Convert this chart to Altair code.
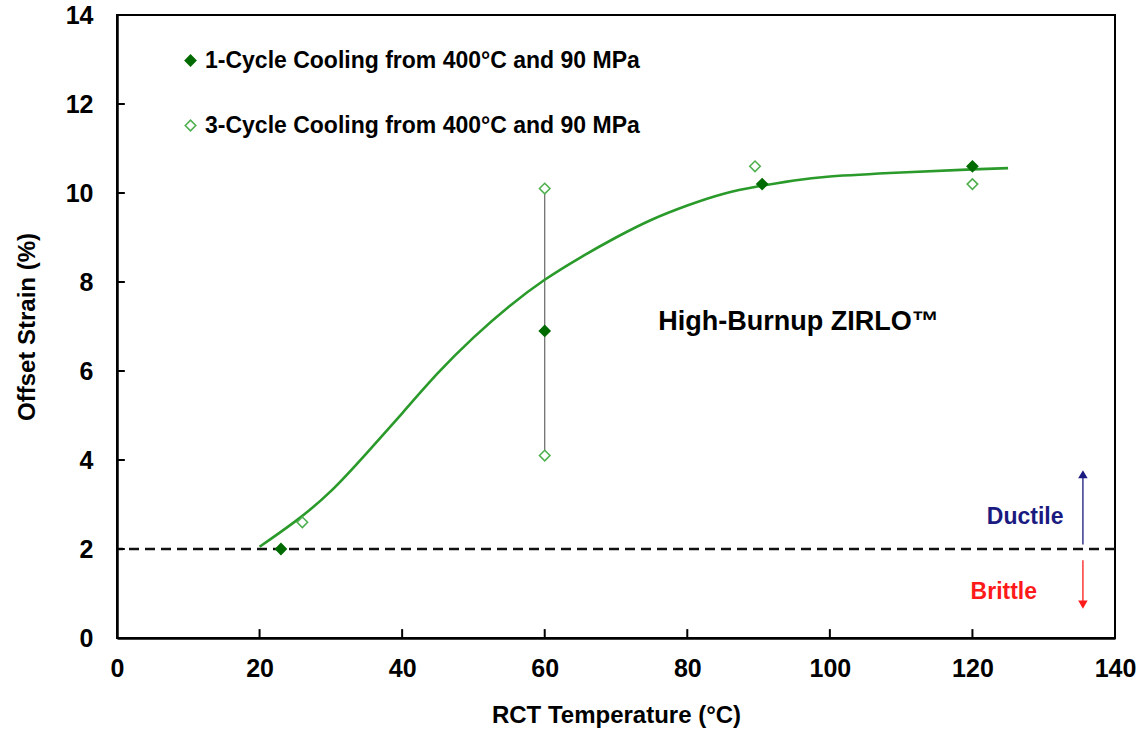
import altair as alt
import pandas as pd

# ---- data ----
series_names = ["1-Cycle Cooling from 400°C and 90 MPa", "3-Cycle Cooling from 400°C and 90 MPa"]

one_cycle_temp = [23, 60, 90.5, 120]
one_cycle_strain = [2.0, 6.9, 10.2, 10.6]

three_cycle_temp = [26, 60, 60, 89.5, 120]
three_cycle_strain = [2.6, 10.1, 4.1, 10.6, 10.2]

curve_temp = [20, 25, 30, 35, 40, 45, 50, 55, 60, 65, 70, 75, 80, 85, 90, 95, 100, 110, 120, 125]
curve_strain = [2.05, 2.62, 3.3, 4.15, 5.05, 5.95, 6.75, 7.45, 8.05, 8.55, 9.0, 9.4, 9.72, 9.98, 10.15, 10.28, 10.37, 10.46, 10.53, 10.56]

range_temp = [60]
range_low = [4.1]
range_high = [10.1]

threshold = [2.0]

ductile_arrow = {"x": [135.5], "y": [2.1], "y2": [3.68]}
brittle_arrow = {"x": [135.5], "y": [1.75], "y2": [0.75]}

labels_txt = ["Ductile", "Brittle", "High-Burnup ZIRLO™"]
labels_x = [127.4, 124.4, 95.6]
labels_y = [2.72, 1.04, 7.1]
labels_col = ["#1a1a80", "#ff1a1a", "#000000"]
labels_size = [23, 23, 27]

x_ticks = [0, 20, 40, 60, 80, 100, 120, 140]
y_ticks = [0, 2, 4, 6, 8, 10, 12, 14]
x_tick_len = 0.2   # in y units
y_tick_len = 1.1   # in x units

FONT = "Liberation Sans"
DARK = "#006b00"
LIGHT = "#4fb04f"

pts = pd.DataFrame({
    "temp": one_cycle_temp + three_cycle_temp,
    "strain": one_cycle_strain + three_cycle_strain,
    "series": [series_names[0]] * len(one_cycle_temp) + [series_names[1]] * len(three_cycle_temp),
})
curve = pd.DataFrame({"temp": curve_temp, "strain": curve_strain})
rng = pd.DataFrame({"temp": range_temp, "lo": range_low, "hi": range_high})
thr = pd.DataFrame({"y": threshold})
dA = pd.DataFrame(ductile_arrow)
bA = pd.DataFrame(brittle_arrow)
lab = pd.DataFrame({"t": labels_txt, "x": labels_x, "y": labels_y, "c": labels_col, "s": labels_size})
xt = pd.DataFrame({"x": x_ticks[1:-1], "y0": [0] * (len(x_ticks) - 2), "y1": [x_tick_len] * (len(x_ticks) - 2)})
yt = pd.DataFrame({"y": y_ticks[1:-1], "x0": [0] * (len(y_ticks) - 2), "x1": [y_tick_len] * (len(y_ticks) - 2)})

xs = alt.Scale(domain=[0, 140], nice=False, zero=False)
ys = alt.Scale(domain=[0, 14], nice=False, zero=False)

xaxis = alt.Axis(title="RCT Temperature (°C)", values=x_ticks, tickSize=0, labelPadding=18,
                 titlePadding=22, grid=False, labelFlush=False)
yaxis = alt.Axis(title="Offset Strain (%)", values=y_ticks, tickSize=0, labelPadding=24,
                 titlePadding=26, grid=False, labelFlush=False)

base_curve = alt.Chart(curve).mark_line(color="#2a9a2a", strokeWidth=2.6, interpolate="natural").encode(
    x=alt.X("temp:Q", scale=xs, axis=xaxis),
    y=alt.Y("strain:Q", scale=ys, axis=yaxis),
)

thr_rule = alt.Chart(thr).mark_rule(color="#111111", strokeWidth=2.6, strokeDash=[10, 6]).encode(
    y=alt.Y("y:Q", scale=ys)
)

rng_rule = alt.Chart(rng).mark_rule(color="#666666", strokeWidth=1.2).encode(
    x=alt.X("temp:Q", scale=xs), y=alt.Y("lo:Q", scale=ys), y2="hi:Q"
)

xtick_rule = alt.Chart(xt).mark_rule(color="black", strokeWidth=2).encode(
    x=alt.X("x:Q", scale=xs), y=alt.Y("y0:Q", scale=ys), y2="y1:Q"
)
ytick_rule = alt.Chart(yt).mark_rule(color="black", strokeWidth=2).encode(
    y=alt.Y("y:Q", scale=ys), x=alt.X("x0:Q", scale=xs), x2="x1:Q"
)

d_line = alt.Chart(dA).mark_rule(color="#1a1a80", strokeWidth=1.3).encode(
    x=alt.X("x:Q", scale=xs), y=alt.Y("y:Q", scale=ys), y2="y2:Q"
)
d_head = alt.Chart(dA).mark_point(shape="triangle-up", filled=True, color="#1a1a80", size=90, opacity=1).encode(
    x=alt.X("x:Q", scale=xs), y=alt.Y("y2:Q", scale=ys)
)
b_line = alt.Chart(bA).mark_rule(color="#ff1a1a", strokeWidth=1.3).encode(
    x=alt.X("x:Q", scale=xs), y=alt.Y("y:Q", scale=ys), y2="y2:Q"
)
b_head = alt.Chart(bA).mark_point(shape="triangle-down", filled=True, color="#ff1a1a", size=90, opacity=1).encode(
    x=alt.X("x:Q", scale=xs), y=alt.Y("y2:Q", scale=ys)
)

texts = alt.Chart(lab).mark_text(font=FONT, fontWeight="bold", align="center", baseline="middle").encode(
    x=alt.X("x:Q", scale=xs), y=alt.Y("y:Q", scale=ys), text="t:N",
    color=alt.Color("c:N", scale=None), size=alt.Size("s:Q", scale=None),
)

legend = alt.Legend(
    title=None, orient="none", legendX=62, legendY=34, direction="vertical",
    labelFont=FONT, labelFontSize=23, labelFontWeight="bold", labelColor="black",
    symbolSize=110, symbolStrokeWidth=1.6, labelOffset=3, rowPadding=41,
    labelLimit=600, symbolType="diamond",
)

points = alt.Chart(pts).mark_point(shape="diamond", filled=True, size=110, strokeWidth=1.6, opacity=1).encode(
    x=alt.X("temp:Q", scale=xs),
    y=alt.Y("strain:Q", scale=ys),
    fill=alt.Fill("series:N", scale=alt.Scale(domain=series_names, range=[DARK, "#ffffff"]), legend=legend),
    stroke=alt.Stroke("series:N", scale=alt.Scale(domain=series_names, range=[DARK, LIGHT]), legend=legend),
)

chart = alt.layer(
    thr_rule, rng_rule, base_curve, xtick_rule, ytick_rule, d_line, d_head, b_line, b_head, texts, points
).properties(
    width=998, height=623,
    autosize=alt.AutoSizeParams(type="none"),
    padding={"left": 117, "top": 15, "right": 32, "bottom": 95},
    background="white",
).configure_view(
    stroke="black", strokeWidth=2
).configure_axis(
    domainColor="black", domainWidth=2.5,
    labelFont=FONT, labelFontSize=25, labelFontWeight="bold", labelColor="black",
    titleFont=FONT, titleFontSize=24, titleFontWeight="bold", titleColor="black",
)

chart.save("out.html", embed_options={"renderer": "svg", "actions": False})
